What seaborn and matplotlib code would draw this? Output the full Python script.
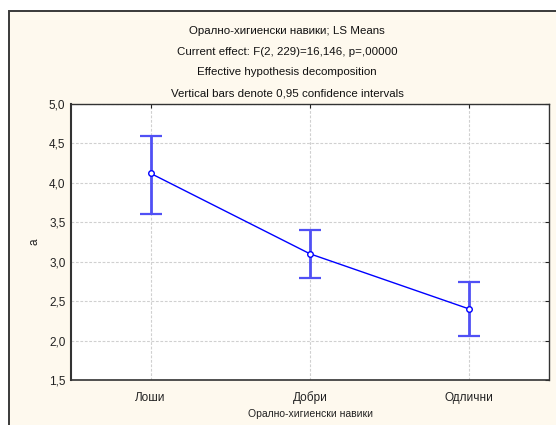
import matplotlib
matplotlib.use("Agg")
import matplotlib.pyplot as plt
import seaborn as sns
import pandas as pd
from matplotlib.patches import Rectangle

categories = ["Лоши", "Добри", "Одлични"]
means = [4.12, 3.10, 2.40]
ci_low = [3.61, 2.79, 2.06]
ci_high = [4.59, 3.40, 2.74]
yticks = [1.5, 2.0, 2.5, 3.0, 3.5, 4.0, 4.5, 5.0]
title_lines = [
    "Оралнo-хигиенски навики; LS Means",
    "Current effect: F(2, 229)=16,146, p=,00000",
    "Effective hypothesis decomposition",
    "Vertical bars denote 0,95 confidence intervals",
]
xlabel = "Оралнo-хигиенски навики"
ylabel = "a"

sns.set_style("white")
plt.rcParams['font.family'] = ['Liberation Sans', 'DejaVu Sans']

fig = plt.figure(figsize=(5.56, 4.25), dpi=100)
fig.patch.set_facecolor("white")
W, H = 556, 425
cream = "#FEF9EE"
fig.patches.append(Rectangle((9 / W, -0.02), 1.05, 1 - 11 / H + 0.02,
                             transform=fig.transFigure, facecolor=cream,
                             edgecolor="#3a3a3a", lw=1.4, zorder=-5))

ax = fig.add_axes([71 / W, 1 - 380 / H, (549 - 71) / W, (380 - 104) / H])
ax.set_zorder(2)
ax.set_facecolor("white")

df = pd.DataFrame({"cat": categories, "mean": means})
sns.pointplot(data=df, x="cat", y="mean", ax=ax, color="#0000FF",
              markers="o", linestyles="-", errorbar=None,
              markersize=4, linewidth=1.0, markerfacecolor="white",
              markeredgecolor="#0000FF", markeredgewidth=1.0, zorder=4)
pos = list(range(len(categories)))
yerr = [[m - l for m, l in zip(means, ci_low)], [h - m for m, h in zip(means, ci_high)]]
ax.errorbar(pos, means, yerr=yerr, fmt="none", ecolor="#5050F5",
            elinewidth=2.0, capsize=8, capthick=1.6, zorder=3)
for ln in ax.lines:
    if ln.get_marker() not in (None, "None", "", " "):
        ln.set_zorder(6)
for c in ax.collections:
    c.set_zorder(5)

ax.set_xlim(-0.5, 2.5)
ax.set_ylim(1.5, 5.0)
ax.set_yticks(yticks)
ax.set_yticklabels([f"{v:.1f}".replace(".", ",") for v in yticks])
ax.set_xticks(pos)
ax.set_xticklabels(categories)
ax.grid(True, color="#d0d0d0", linestyle=(0, (2.5, 1.5)), linewidth=0.8)
ax.set_axisbelow(True)
ax.tick_params(axis="both", labelsize=8.5, length=3, direction="in",
               colors="#222222", top=True, right=True, pad=4)
ax.tick_params(axis="x", pad=15)
for lab in ax.get_xticklabels():
    lab.set_verticalalignment("baseline")
for s in ax.spines.values():
    s.set_color("#333333")
    s.set_linewidth(1.0)
ax.spines["left"].set_linewidth(1.5)
ax.spines["bottom"].set_linewidth(1.2)

ax.set_xlabel(xlabel, fontsize=7.5, labelpad=4, color="#222222")
ax.set_ylabel(ylabel, fontsize=8.5, labelpad=6, color="#222222")

for i, t in enumerate(title_lines):
    fig.text(287 / W, 1 - (31 + 20.7 * i) / H, t, ha="center", va="center",
             fontsize=8.25, color="#111111")

fig.savefig("out.png", dpi=100)
